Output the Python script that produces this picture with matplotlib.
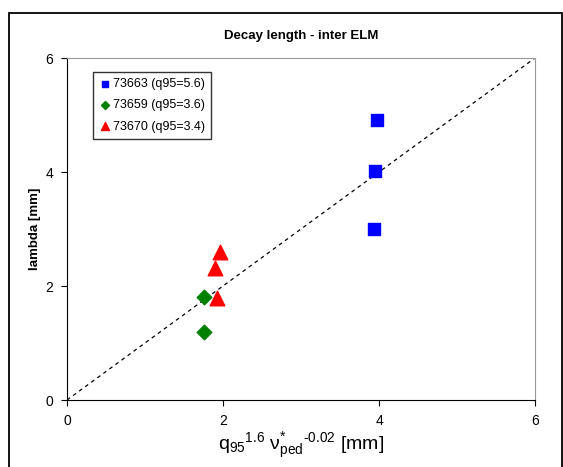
import matplotlib
matplotlib.use("Agg")
import matplotlib.pyplot as plt
from matplotlib.patches import Rectangle

plt.rcParams['font.family'] = ['Liberation Sans', 'DejaVu Sans']
plt.rcParams['mathtext.fontset'] = 'custom'
plt.rcParams['mathtext.rm'] = 'Liberation Sans'
plt.rcParams['mathtext.it'] = 'Liberation Sans'
plt.rcParams['mathtext.bf'] = 'Liberation Sans:bold'

# Data
blue_x = [3.97, 3.95, 3.93]
blue_y = [4.92, 4.01, 3.00]
green_x = [1.75, 1.76]
green_y = [1.80, 1.20]
red_x = [1.96, 1.90, 1.92]
red_y = [2.60, 2.31, 1.79]
labels = ['73663 (q95=5.6)', '73659 (q95=3.6)', '73670 (q95=3.4)']
ticks = [0, 2, 4, 6]

W, H = 563, 467
fig = plt.figure(figsize=(W/100, H/100), dpi=100)
fig.patches.append(Rectangle((8.5/W, -0.01), (561.5-8.5)/W, (H-12.5)/H + 0.01,
                             transform=fig.transFigure, fill=False,
                             edgecolor='black', linewidth=1.3))
ax = fig.add_axes([67/W, 1-400/H, (535-67)/W, (400-58)/H])

ax.plot([0, 6], [0, 6], linestyle=(0, (3, 3)), color='black', linewidth=0.9, zorder=1)
ax.scatter(blue_x, blue_y, marker='s', s=75, color='#0000FF', label=labels[0], zorder=3)
ax.scatter(green_x, green_y, marker='D', s=55, color='#008000', label=labels[1], zorder=3)
ax.scatter(red_x, red_y, marker='^', s=110, color='#FF0000', label=labels[2], zorder=3)

ax.set_xlim(0, 6)
ax.set_ylim(0, 6)
ax.set_xticks(ticks)
ax.set_yticks(ticks)
ax.tick_params(direction='out', length=4, width=0.8, labelsize=10, pad=6)
for s in ['top', 'right']:
    ax.spines[s].set_color('#999999')
for s in ['left', 'bottom']:
    ax.spines[s].set_color('black')

ax.set_title('Decay length - inter ELM', fontsize=9.5, fontweight='bold', pad=14)
ax.set_ylabel('lambda [mm]', fontsize=9.5, fontweight='bold', labelpad=3)
ax.set_xlabel(r'q$_{95}$$^{1.6}$ $\mathregular{\nu}^{*}_{ped}$$^{\text{-}0.02}$ [mm]', fontsize=14, labelpad=2)

leg = ax.legend(loc='upper left', bbox_to_anchor=(0.055, 0.96), fontsize=9,
                frameon=True, fancybox=False, edgecolor='black',
                handletextpad=0.2, borderpad=0.5, labelspacing=0.75,
                markerscale=0.55, handlelength=0.9, borderaxespad=0)
leg.get_frame().set_linewidth(1.0)

fig.savefig('out.png', dpi=100)
